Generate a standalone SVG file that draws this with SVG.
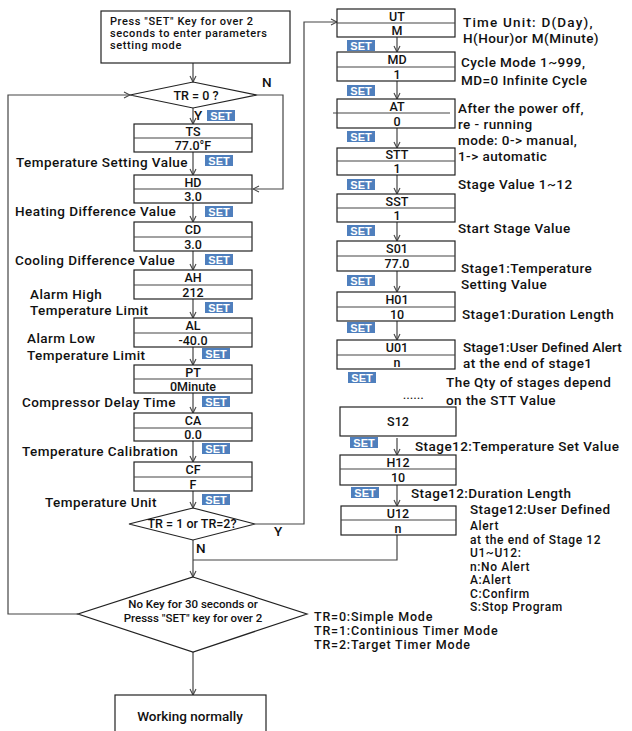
<svg xmlns="http://www.w3.org/2000/svg" width="632" height="731" viewBox="0 0 632 731">
<defs>
<style>
.ln{stroke:#444;fill:none;stroke-width:1.2}
.bx{fill:#fff;stroke:#222;stroke-width:1.2}
.t{font-family:Roboto,"Liberation Sans",sans-serif;font-size:13.5px;fill:#111;font-weight:500;letter-spacing:0.45px}
.c{text-anchor:middle;font-weight:500;letter-spacing:0;font-size:12.5px}
.s{font-family:Roboto,"Liberation Sans",sans-serif;font-size:11px;fill:#111;font-weight:500;letter-spacing:0.6px}
.sm{font-size:12px;letter-spacing:0.6px}
.md{font-size:12.5px;letter-spacing:0.8px}
</style>
<marker id="ar" markerWidth="8" markerHeight="8" refX="7" refY="4" orient="auto" markerUnits="userSpaceOnUse">
<path d="M1,1 L7,4 L1,7" fill="none" stroke="#444" stroke-width="1.1"/>
</marker>
<g id="set"><rect x="0" y="0" width="28" height="11" fill="#4f7fbd"/><text x="14" y="9.8" font-family="Liberation Sans, sans-serif" font-size="11" font-weight="700" fill="#ffffff" text-anchor="middle">SET</text></g>
</defs>
<rect width="632" height="731" fill="#fff"/>

<g id="connectors">
<line class="ln" x1="193" y1="63" x2="193" y2="82" marker-end="url(#ar)"/>
<polyline class="ln" points="257,95 283,95 283,189 253,189" marker-end="url(#ar)"/>
<line class="ln" x1="193" y1="108" x2="193" y2="124" marker-end="url(#ar)"/>
<line class="ln" x1="193" y1="152" x2="193" y2="175" marker-end="url(#ar)"/>
<line class="ln" x1="193" y1="203" x2="193" y2="222" marker-end="url(#ar)"/>
<line class="ln" x1="193" y1="251" x2="193" y2="270" marker-end="url(#ar)"/>
<line class="ln" x1="193" y1="299" x2="193" y2="318" marker-end="url(#ar)"/>
<line class="ln" x1="193" y1="347" x2="193" y2="365" marker-end="url(#ar)"/>
<line class="ln" x1="193" y1="393" x2="193" y2="413" marker-end="url(#ar)"/>
<line class="ln" x1="193" y1="441" x2="193" y2="462" marker-end="url(#ar)"/>
<line class="ln" x1="193" y1="491" x2="193" y2="508" marker-end="url(#ar)"/>
<polyline class="ln" points="255,524 304,524 304,22 337,22" marker-end="url(#ar)"/>
<line class="ln" x1="193" y1="540" x2="193" y2="577" marker-end="url(#ar)"/>
<polyline class="ln" points="397,535 397,560 193,560"/>
<polyline class="ln" points="78,614 8,614 8,95 130,95" marker-end="url(#ar)"/>
<line class="ln" x1="193" y1="652" x2="193" y2="695" marker-end="url(#ar)"/>
<line class="ln" x1="397" y1="37" x2="397" y2="52" marker-end="url(#ar)"/>
<line class="ln" x1="397" y1="81" x2="397" y2="99" marker-end="url(#ar)"/>
<line class="ln" x1="397" y1="128" x2="397" y2="148" marker-end="url(#ar)"/>
<line class="ln" x1="397" y1="175" x2="397" y2="194" marker-end="url(#ar)"/>
<line class="ln" x1="397" y1="222" x2="397" y2="241" marker-end="url(#ar)"/>
<line class="ln" x1="397" y1="271" x2="397" y2="292" marker-end="url(#ar)"/>
<line class="ln" x1="397" y1="321" x2="397" y2="340" marker-end="url(#ar)"/>
<line class="ln" x1="397" y1="438" x2="397" y2="455" marker-end="url(#ar)"/>
<line class="ln" x1="397" y1="485" x2="397" y2="506" marker-end="url(#ar)"/>
</g>

<g id="start">
<rect class="bx" x="101" y="11" width="189" height="52"/>
<text class="s" x="110" y="25">Press "SET" Key for over 2</text>
<text class="s" x="110" y="37">seconds to enter parameters</text>
<text class="s" x="110" y="49">setting mode</text>
</g>

<g id="d-tr0">
<polygon class="bx" points="193,82 257,95 193,108 130,95"/>
<text class="t c" x="196" y="100">TR = 0 ?</text>
<text class="t" x="262" y="87">N</text>
<text class="t" x="194" y="120">Y</text>
<use href="#set" x="207" y="110"/>
</g>

<g id="ts"><rect class="bx" x="134" y="124" width="118" height="28"/><line class="ln" x1="134" y1="138" x2="252" y2="138"/>
<text class="t c" x="193" y="136">TS</text><text class="t c" x="193" y="150">77.0°F</text>
<text class="t" x="16" y="167">Temperature Setting Value</text><use href="#set" x="205" y="155"/></g>

<g id="hd"><rect class="bx" x="134" y="175" width="118" height="28"/><line class="ln" x1="134" y1="189" x2="252" y2="189"/>
<text class="t c" x="193" y="187">HD</text><text class="t c" x="193" y="201">3.0</text>
<text class="t" x="15" y="216">Heating Difference Value</text><use href="#set" x="205" y="206"/></g>

<g id="cd"><rect class="bx" x="134" y="222" width="118" height="29"/><line class="ln" x1="134" y1="237" x2="252" y2="237"/>
<text class="t c" x="193" y="234">CD</text><text class="t c" x="193" y="249">3.0</text>
<text class="t" x="15" y="265">Cooling Difference Value</text><use href="#set" x="205" y="254"/></g>

<g id="ah"><rect class="bx" x="134" y="270" width="118" height="29"/><line class="ln" x1="134" y1="285" x2="252" y2="285"/>
<text class="t c" x="193" y="282">AH</text><text class="t c" x="193" y="297">212</text>
<text class="t" x="30" y="299">Alarm High</text><text class="t" x="30" y="315">Temperature Limit</text><use href="#set" x="205" y="302"/></g>

<g id="al"><rect class="bx" x="134" y="318" width="118" height="29"/><line class="ln" x1="134" y1="333" x2="252" y2="333"/>
<text class="t c" x="193" y="330">AL</text><text class="t c" x="193" y="345">-40.0</text>
<text class="t" x="27" y="343">Alarm Low</text><text class="t" x="27" y="360">Temperature Limit</text><use href="#set" x="202" y="348"/></g>

<g id="pt"><rect class="bx" x="134" y="365" width="118" height="28"/><line class="ln" x1="134" y1="379" x2="252" y2="379"/>
<text class="t c" x="193" y="377">PT</text><text class="t c" x="193" y="391">0Minute</text>
<text class="t" x="22" y="407">Compressor Delay Time</text><use href="#set" x="202" y="396"/></g>

<g id="ca"><rect class="bx" x="134" y="413" width="118" height="28"/><line class="ln" x1="134" y1="428" x2="252" y2="428"/>
<text class="t c" x="193" y="425">CA</text><text class="t c" x="193" y="439">0.0</text>
<text class="t" x="22" y="456">Temperature Calibration</text><use href="#set" x="202" y="443"/></g>

<g id="cf"><rect class="bx" x="134" y="462" width="118" height="29"/><line class="ln" x1="134" y1="477" x2="252" y2="477"/>
<text class="t c" x="193" y="474">CF</text><text class="t c" x="193" y="489">F</text>
<text class="t" x="45" y="507">Temperature Unit</text><use href="#set" x="202" y="494"/></g>

<g id="d-tr12">
<polygon class="bx" points="193,508 255,524 193,540 129,524"/>
<text class="t c" x="192" y="528">TR = 1 or TR=2?</text>
<text class="t" x="274" y="536">Y</text>
<text class="t" x="196" y="553">N</text>
</g>

<g id="d-exit">
<polygon class="bx" points="193,577 307,614 193,652 78,614"/>
<text class="s" x="193" y="608" text-anchor="middle" style="font-size:11.5px;letter-spacing:0">No Key for 30 seconds or</text>
<text class="s" x="193" y="622" text-anchor="middle" style="font-size:11.5px;letter-spacing:0">Presss "SET" key for over 2</text>
</g>

<g id="modes">
<text class="t md" x="314" y="621">TR=0:Simple Mode</text>
<text class="t md" x="314" y="635">TR=1:Continious Timer Mode</text>
<text class="t md" x="314" y="649">TR=2:Target Timer Mode</text>
</g>

<g id="work"><rect class="bx" x="115" y="695" width="151" height="45"/>
<text class="t" x="190" y="721" text-anchor="middle" style="letter-spacing:0">Working normally</text></g>

<g id="ut"><rect class="bx" x="337" y="9" width="118" height="28"/><line class="ln" x1="337" y1="23" x2="455" y2="23"/>
<text class="t c" x="397" y="21">UT</text><text class="t c" x="397" y="35">M</text>
<text class="t" x="463" y="27" style="letter-spacing:1.2px">Time Unit: D(Day),</text><text class="t" x="463" y="43">H(Hour)or M(Minute)</text>
<use href="#set" x="347" y="40"/></g>

<g id="md"><rect class="bx" x="337" y="52" width="118" height="29"/><line class="ln" x1="337" y1="67" x2="455" y2="67"/>
<text class="t c" x="397" y="64">MD</text><text class="t c" x="397" y="79">1</text>
<text class="t" x="461" y="67">Cycle Mode 1~999,</text><text class="t" x="461" y="85">MD=0 Infinite Cycle</text>
<use href="#set" x="347" y="85"/></g>

<g id="at"><rect class="bx" x="337" y="99" width="118" height="29"/><line class="ln" x1="333" y1="113" x2="450" y2="113"/>
<text class="t c" x="397" y="111">AT</text><text class="t c" x="397" y="126">0</text>
<text class="t" x="458" y="113">After the power off,</text><text class="t" x="458" y="129">re - running</text>
<text class="t" x="458" y="145">mode: 0-&gt; manual,</text><text class="t" x="458" y="161">1-&gt; automatic</text>
<use href="#set" x="347" y="131"/></g>

<g id="stt"><rect class="bx" x="337" y="148" width="118" height="27"/><line class="ln" x1="337" y1="161" x2="455" y2="161"/>
<text class="t c" x="397" y="159">STT</text><text class="t c" x="397" y="173">1</text>
<text class="t" x="458" y="189">Stage Value 1~12</text>
<use href="#set" x="347" y="179"/></g>

<g id="sst"><rect class="bx" x="337" y="194" width="118" height="28"/><line class="ln" x1="337" y1="208" x2="455" y2="208"/>
<text class="t c" x="397" y="206">SST</text><text class="t c" x="397" y="220">1</text>
<text class="t" x="458" y="233">Start Stage Value</text>
<use href="#set" x="347" y="225"/></g>

<g id="s01"><rect class="bx" x="337" y="241" width="118" height="30"/><line class="ln" x1="337" y1="256" x2="455" y2="256"/>
<text class="t c" x="397" y="253">S01</text><text class="t c" x="397" y="268">77.0</text>
<text class="t" x="461" y="273">Stage1:Temperature</text><text class="t" x="461" y="289">Setting Value</text>
<use href="#set" x="347" y="275"/></g>

<g id="h01"><rect class="bx" x="337" y="292" width="118" height="29"/><line class="ln" x1="337" y1="307" x2="455" y2="307"/>
<text class="t c" x="397" y="304">H01</text><text class="t c" x="397" y="319">10</text>
<text class="t" x="462" y="319">Stage1:Duration Length</text>
<use href="#set" x="347" y="322"/></g>

<g id="u01"><rect class="bx" x="337" y="340" width="118" height="29"/><line class="ln" x1="337" y1="355" x2="455" y2="355"/>
<text class="t c" x="397" y="352">U01</text><text class="t c" x="397" y="367">n</text>
<text class="t" x="463" y="352" style="letter-spacing:0.1px">Stage1:User Defined Alert</text><text class="t" x="463" y="368">at the end of stage1</text>
<use href="#set" x="348" y="372"/></g>

<g id="more">
<text class="t" x="403" y="399" style="font-size:11px">......</text>
<text class="t" x="446" y="387">The Qty of stages depend</text><text class="t" x="446" y="405">on the STT Value</text>
</g>

<g id="s12"><rect class="bx" x="340" y="407" width="116" height="29"/>
<text class="t c" x="398" y="426">S12</text>
<use href="#set" x="350" y="437"/>
<text class="t" x="415" y="451">Stage12:Temperature Set Value</text></g>

<g id="h12"><rect class="bx" x="340" y="455" width="116" height="30"/><line class="ln" x1="340" y1="469" x2="456" y2="469"/>
<text class="t c" x="398" y="467">H12</text><text class="t c" x="398" y="482">10</text>
<use href="#set" x="351" y="487"/>
<text class="t" x="411" y="498">Stage12:Duration Length</text></g>

<g id="u12"><rect class="bx" x="341" y="506" width="115" height="29"/><line class="ln" x1="341" y1="520" x2="456" y2="520"/>
<text class="t c" x="398" y="518">U12</text><text class="t c" x="398" y="533">n</text>
<text class="t" x="470" y="514">Stage12:User Defined</text>
<text class="t sm" x="470" y="530">Alert</text>
<text class="t sm" x="470" y="543.5">at the end of Stage 12</text>
<text class="t sm" x="470" y="557">U1~U12:</text>
<text class="t sm" x="470" y="570.5">n:No Alert</text>
<text class="t sm" x="470" y="584">A:Alert</text>
<text class="t sm" x="470" y="597.5">C:Confirm</text>
<text class="t sm" x="470" y="611">S:Stop Program</text></g>
</svg>
